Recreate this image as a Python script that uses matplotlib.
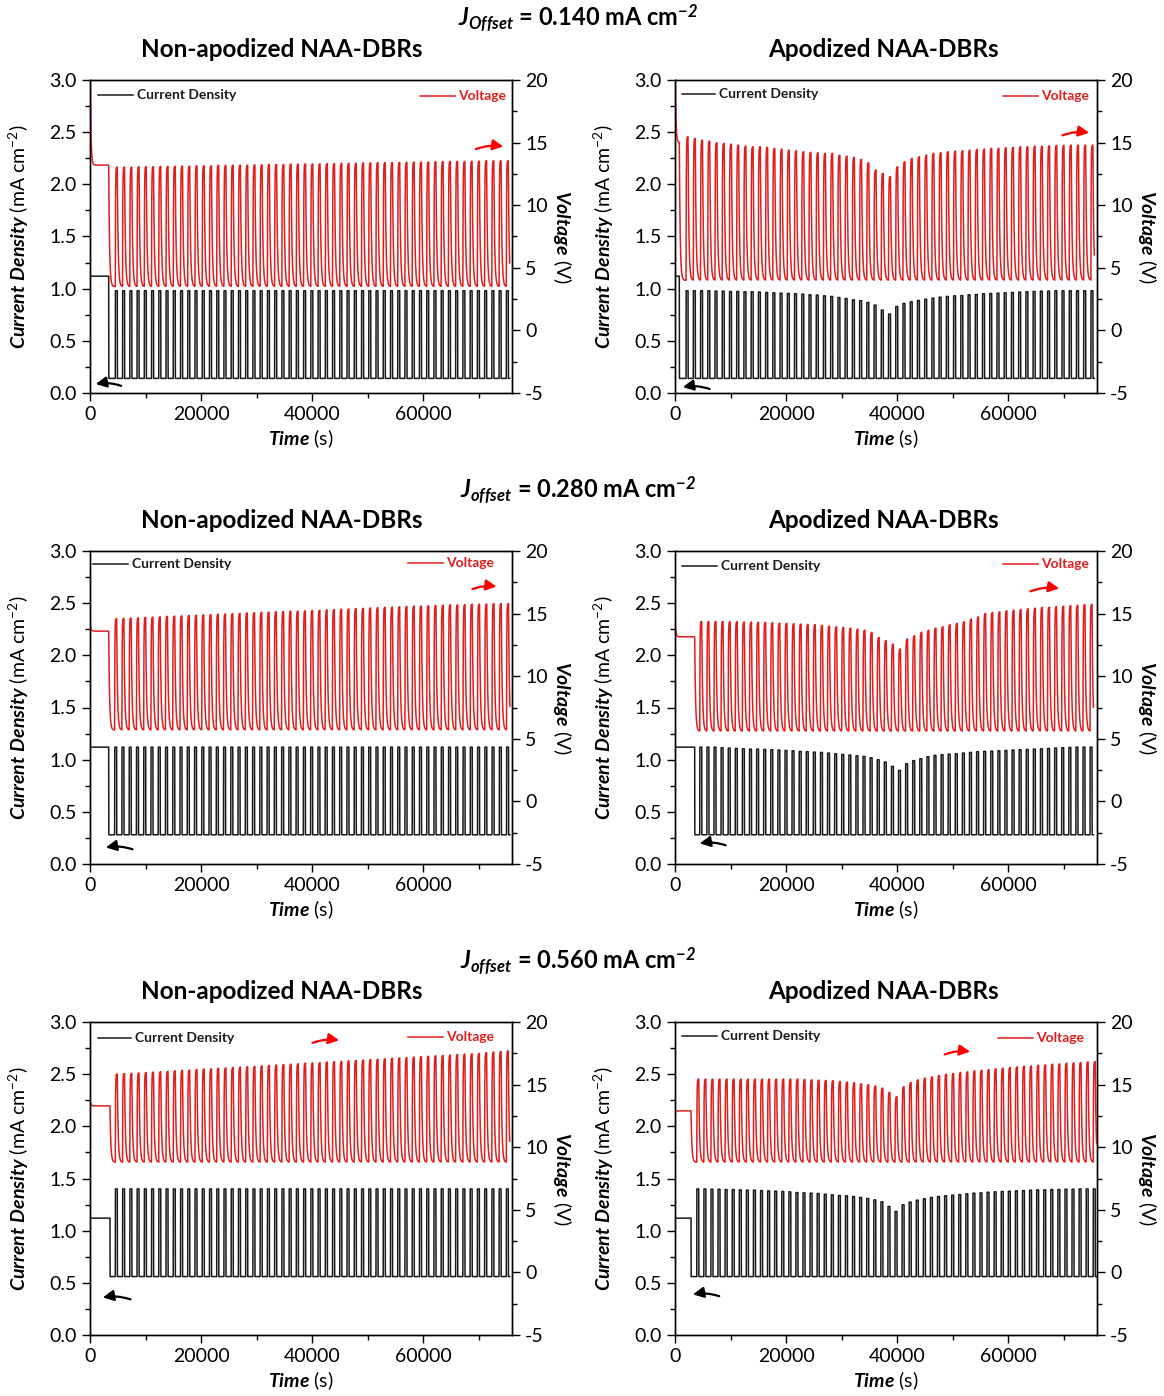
import numpy as np
import matplotlib

matplotlib.use("Agg")
import matplotlib.pyplot as plt
from matplotlib.ticker import MultipleLocator, FormatStrFormatter

plt.rcParams['font.family'] = ['Lato', 'DejaVu Sans']
plt.rcParams['mathtext.fontset'] = 'custom'
plt.rcParams['mathtext.rm'] = 'Lato'
plt.rcParams['mathtext.it'] = 'Lato:italic'
plt.rcParams['mathtext.bf'] = 'Lato:bold:italic'
plt.rcParams['axes.unicode_minus'] = False

# ---- data --------------------------------------------------------------
ROW_LABELS = ["0.140", "0.280", "0.560"]
ROW_SUB = ["Offset", "offset", "offset"]
COL_TITLES = ["Non-apodized NAA-DBRs", "Apodized NAA-DBRs"]

J_OFFSET = [0.140, 0.280, 0.560]      # mA cm-2, low level of every pulse
J_PEAK = [0.98, 1.12, 1.40]           # mA cm-2, non-apodized high level
J_INIT = 1.12                         # mA cm-2, before pulsing starts

# per row: [non-apodized, apodized]
PERIOD_S = [[1304, 1302], [1307, 1278], [1304, 1275]]
T_INIT_END = [[3370, 780], [3370, 3550], [3600, 2890]]
T_FIRST = [[4560, 1990], [4440, 4460], [4560, 3920]]
V_TROUGH = [[3.5, 4.0], [5.7, 5.6], [8.8, 8.8]]
V_START = [[26.0, 24.0], [14.6, 15.1], [14.0, 12.6]]
V_PLATEAU = [[13.2, 15.0], [13.6, 13.15], [13.3, 12.9]]

# voltage peaks, one per pulse (V)
V_NA_1 = [13.05, 13.05, 13.05, 13.08, 13.08, 13.08, 13.10, 13.10, 13.10, 13.12,
          13.12, 13.15, 13.15, 13.15, 13.18, 13.18, 13.20, 13.20, 13.20, 13.22,
          13.22, 13.25, 13.25, 13.25, 13.28, 13.28, 13.30, 13.30, 13.30, 13.32,
          13.32, 13.35, 13.35, 13.35, 13.38, 13.38, 13.40, 13.40, 13.40, 13.42,
          13.42, 13.45, 13.45, 13.45, 13.48, 13.48, 13.50, 13.50, 13.50, 13.52,
          13.52, 13.55, 13.55, 13.55, 13.55]
V_A_1 = [15.47, 15.33, 15.20, 15.12, 14.99, 14.94, 14.88, 14.80, 14.72, 14.67,
         14.67, 14.62, 14.54, 14.48, 14.40, 14.35, 14.27, 14.22, 14.19, 14.14,
         14.14, 14.00, 13.92, 13.82, 13.66, 13.39, 12.81, 12.54, 12.28,
         13.07, 13.47, 13.74, 13.87, 14.00, 14.14, 14.19, 14.27, 14.32, 14.35,
         14.40, 14.45, 14.48, 14.54, 14.54, 14.59, 14.62, 14.67, 14.67, 14.72,
         14.72, 14.75, 14.78, 14.78, 14.80, 14.80, 14.80, 14.80]
V_NA_2 = [14.60, 14.62, 14.65, 14.67, 14.70, 14.72, 14.75, 14.78, 14.80, 14.82,
          14.85, 14.87, 14.90, 14.92, 14.95, 14.97, 15.00, 15.02, 15.05, 15.07,
          15.10, 15.12, 15.15, 15.17, 15.20, 15.20, 15.22, 15.25, 15.27, 15.30,
          15.32, 15.35, 15.37, 15.40, 15.42, 15.45, 15.47, 15.50, 15.52, 15.55,
          15.57, 15.60, 15.60, 15.62, 15.65, 15.67, 15.70, 15.70, 15.72, 15.75,
          15.75, 15.77, 15.80, 15.80, 15.80]
V_A_2 = [14.37, 14.37, 14.37, 14.37, 14.35, 14.35, 14.32, 14.32, 14.30, 14.30,
         14.27, 14.24, 14.22, 14.19, 14.16, 14.14, 14.11, 14.06, 14.00, 13.95,
         13.90, 13.84, 13.76, 13.68, 13.50, 13.10, 12.84, 12.57, 12.17,
         12.97, 13.23, 13.50, 13.68, 13.84, 13.95, 14.11, 14.22, 14.35, 14.56,
         14.74, 15.01, 15.09, 15.14, 15.22, 15.27, 15.33, 15.38, 15.43, 15.49,
         15.51, 15.56, 15.59, 15.64, 15.67, 15.72, 15.74]
V_NA_3 = [15.85, 15.88, 15.90, 15.93, 15.96, 16.00, 16.03, 16.06, 16.10, 16.13,
          16.16, 16.20, 16.23, 16.26, 16.30, 16.33, 16.36, 16.40, 16.43, 16.46,
          16.50, 16.53, 16.56, 16.60, 16.63, 16.66, 16.70, 16.73, 16.76, 16.80,
          16.83, 16.86, 16.90, 16.93, 16.96, 17.00, 17.03, 17.06, 17.10, 17.13,
          17.16, 17.20, 17.23, 17.26, 17.30, 17.33, 17.36, 17.40, 17.43, 17.46,
          17.50, 17.55, 17.60, 17.65, 17.70]
V_A_3 = [15.44, 15.44, 15.44, 15.44, 15.44, 15.44, 15.44, 15.44, 15.44, 15.44,
         15.44, 15.44, 15.44, 15.44, 15.44, 15.41, 15.38, 15.36, 15.33, 15.31,
         15.25, 15.20, 15.15, 15.07, 14.99, 14.88, 14.72, 14.38, 14.03,
         14.83, 15.17, 15.38, 15.52, 15.62, 15.73, 15.83, 15.89, 15.97, 16.02,
         16.10, 16.15, 16.20, 16.26, 16.31, 16.36, 16.41, 16.47, 16.49, 16.55,
         16.57, 16.63, 16.65, 16.71, 16.73, 16.76, 16.81, 16.84]

# apodized current peaks, one per pulse (mA cm-2)
I_A_1 = [0.980, 0.980, 0.980, 0.980, 0.976, 0.976, 0.973, 0.973, 0.970, 0.970,
         0.967, 0.963, 0.960, 0.957, 0.954, 0.951, 0.947, 0.941, 0.938, 0.931,
         0.925, 0.915, 0.906, 0.893, 0.884, 0.867, 0.842, 0.794, 0.756,
         0.829, 0.858, 0.874, 0.887, 0.899, 0.909, 0.918, 0.925, 0.931, 0.934,
         0.941, 0.944, 0.951, 0.954, 0.957, 0.960, 0.963, 0.967, 0.970, 0.973,
         0.976, 0.976, 0.980, 0.980, 0.980, 0.980, 0.980, 0.980]
I_A_2 = [1.120, 1.120, 1.120, 1.114, 1.111, 1.107, 1.104, 1.101, 1.101, 1.098,
         1.095, 1.092, 1.088, 1.085, 1.079, 1.076, 1.072, 1.069, 1.063, 1.056,
         1.050, 1.044, 1.037, 1.031, 1.018, 0.999, 0.977, 0.936, 0.897,
         0.961, 0.990, 1.009, 1.028, 1.041, 1.047, 1.053, 1.056, 1.063, 1.069,
         1.076, 1.079, 1.082, 1.085, 1.088, 1.092, 1.095, 1.098, 1.101, 1.104,
         1.107, 1.111, 1.114, 1.117, 1.120, 1.120, 1.120]
I_A_3 = [1.400, 1.400, 1.397, 1.397, 1.394, 1.394, 1.391, 1.388, 1.388, 1.384,
         1.381, 1.378, 1.375, 1.372, 1.365, 1.362, 1.359, 1.356, 1.349, 1.343,
         1.337, 1.334, 1.327, 1.318, 1.308, 1.295, 1.276, 1.232, 1.184,
         1.248, 1.273, 1.292, 1.305, 1.318, 1.327, 1.334, 1.340, 1.346, 1.353,
         1.359, 1.362, 1.368, 1.372, 1.375, 1.378, 1.381, 1.384, 1.388, 1.391,
         1.391, 1.394, 1.394, 1.397, 1.397, 1.400, 1.400, 1.400]

V_PEAKS = [[V_NA_1, V_A_1], [V_NA_2, V_A_2], [V_NA_3, V_A_3]]
I_PEAKS_A = [I_A_1, I_A_2, I_A_3]

# ---- waveform shaping -----------------------------------------------------
HIGH_S = 360
DT = 5.0
TAU_UP, TAU_DOWN, TAU_INIT = 40.0, 150.0, 120.0

RED = "#e01e1e"
BLACK = "#1a1a1a"


def build(t_init, t_first, period, i_peaks, v_peaks, offset, trough, v_start, v_plateau):
    n = len(v_peaks)
    t = np.arange(0, t_first + (n - 1) * period + HIGH_S + 250, DT)
    cur = np.where(t < t_init, J_INIT, offset).astype(float)
    tgt = np.where(t < t_init, v_plateau, trough).astype(float)
    for k in range(n):
        on = (t >= t_first + k * period) & (t < t_first + k * period + HIGH_S)
        cur[on] = i_peaks[k]
        tgt[on] = v_peaks[k]
    volt = np.empty_like(t)
    v = v_start
    for j in range(len(t)):
        if t[j] < t_init:
            tau = TAU_INIT
        else:
            tau = TAU_UP if tgt[j] > v else TAU_DOWN
        v += (tgt[j] - v) * (1 - np.exp(-DT / tau))
        volt[j] = v
    t = np.concatenate([[0.0], t])
    volt = np.concatenate([[-6.0], volt])
    cur = np.concatenate([[0.0], cur])
    return t, cur, volt


# layout in pixels (fig 1164 x 1396)
W, H = 1164, 1396
AX_LEFT_PX = [90, 675]
AX_BOTTOM_PX = [393, 864, 1335]
AX_W, AX_H = 422, 313

LEGEND_POS = [  # (line x0, x1, y) current, (line x0, x1, y) voltage
    [((0.019, 0.102, 0.952), (0.782, 0.865, 0.949)),
     ((0.017, 0.095, 0.955), (0.777, 0.860, 0.949))],
    [((0.007, 0.090, 0.958), (0.754, 0.836, 0.962)),
     ((0.017, 0.100, 0.952), (0.777, 0.860, 0.958))],
    [((0.019, 0.097, 0.949), (0.754, 0.836, 0.952)),
     ((0.017, 0.100, 0.955), (0.765, 0.848, 0.949))],
]
ARROWS = [  # black (tail, head), red (tail, head) in axes fraction
    [(((0.080, 0.020), (0.007, 0.027)), ((0.908, 0.776), (0.986, 0.786))),
     (((0.088, 0.010), (0.012, 0.017)), ((0.912, 0.820), (0.988, 0.830)))],
    [(((0.107, 0.044), (0.031, 0.051)), ((0.900, 0.875), (0.970, 0.885))),
     (((0.126, 0.057), (0.052, 0.064)), ((0.836, 0.868), (0.917, 0.879)))],
    [(((0.102, 0.111), (0.024, 0.118)), ((0.521, 0.930), (0.597, 0.940))),
     (((0.111, 0.121), (0.036, 0.128)), ((0.633, 0.893), (0.706, 0.904)))],
]
TITLE_X = [0.455, 0.493]
HEADER_Y_PX = [18, 490, 961]

fig = plt.figure(figsize=(W / 100, H / 100), dpi=100)

for r in range(3):
    fig.text(578 / W, 1 - HEADER_Y_PX[r] / H,
             r"$\mathbf{J}_{\mathbf{%s}}$ = %s mA cm$^{\mathbf{-2}}$" % (ROW_SUB[r], ROW_LABELS[r]),
             ha="center", va="center", fontsize=17, fontweight="bold")
    for c in range(2):
        ax = fig.add_axes([AX_LEFT_PX[c] / W, 1 - AX_BOTTOM_PX[r] / H, AX_W / W, AX_H / H])
        ax2 = ax.twinx()
        if c == 0:
            i_peaks = [J_PEAK[r]] * len(V_PEAKS[r][0])
        else:
            i_peaks = I_PEAKS_A[r]
        t, cur, volt = build(T_INIT_END[r][c], T_FIRST[r][c], PERIOD_S[r][c], i_peaks,
                             V_PEAKS[r][c], J_OFFSET[r], V_TROUGH[r][c],
                             V_START[r][c], V_PLATEAU[r][c])
        ax.plot(t, cur, color=BLACK, lw=1.1)
        ax2.plot(t, volt, color=RED, lw=1.1)

        ax.set_xlim(0, 76000)
        ax.set_ylim(0, 3.0)
        ax2.set_ylim(-5, 20)
        ax.xaxis.set_major_locator(MultipleLocator(20000))
        ax.xaxis.set_minor_locator(MultipleLocator(10000))
        ax.yaxis.set_major_locator(MultipleLocator(0.5))
        ax.yaxis.set_minor_locator(MultipleLocator(0.25))
        ax.yaxis.set_major_formatter(FormatStrFormatter("%.1f"))
        ax2.yaxis.set_major_locator(MultipleLocator(5))
        ax2.yaxis.set_minor_locator(MultipleLocator(2.5))
        for a in (ax, ax2):
            a.tick_params(which="major", direction="out", length=6, width=1, labelsize=14)
            a.tick_params(which="minor", direction="out", length=3.5, width=1)
            for s in a.spines.values():
                s.set_linewidth(1.0)

        ax.set_ylabel(r"$\mathbf{Current\ Density}$ (mA cm$^{-2}$)", fontsize=14)
        ax.yaxis.set_label_coords(-0.14, 0.5)
        ax2.set_ylabel(r"$\mathbf{Voltage}$ (V)", fontsize=14, rotation=270, va="center")
        ax2.yaxis.set_label_coords(1.12, 0.5)
        ax.set_xlabel(r"$\mathbf{Time}$ (s)", fontsize=14)
        ax.xaxis.set_label_coords(0.5, -0.11)

        ax.text(TITLE_X[c], 1.099, COL_TITLES[c], transform=ax.transAxes,
                ha="center", va="center", fontsize=17.5, fontweight="bold")

        (cx0, cx1, cy), (vx0, vx1, vy) = LEGEND_POS[r][c]
        ax.plot([cx0, cx1], [cy, cy], transform=ax.transAxes, color=BLACK, lw=1.1)
        ax.text(cx1 + 0.01, cy, "Current Density", transform=ax.transAxes,
                ha="left", va="center", fontsize=10, fontweight="bold", color=BLACK)
        ax.plot([vx0, vx1], [vy, vy], transform=ax.transAxes, color=RED, lw=1.1)
        ax.text(vx1 + 0.008, vy, "Voltage", transform=ax.transAxes,
                ha="left", va="center", fontsize=10, fontweight="bold", color=RED)

        (bt, bh), (rt, rh) = ARROWS[r][c]
        ax.annotate("", xy=bh, xytext=bt, xycoords="axes fraction",
                    arrowprops=dict(arrowstyle="-|>", color="black", lw=1.6,
                                    mutation_scale=16, connectionstyle="arc3,rad=0.15"))
        ax.annotate("", xy=rh, xytext=rt, xycoords="axes fraction",
                    arrowprops=dict(arrowstyle="-|>", color="red", lw=1.6,
                                    mutation_scale=16, connectionstyle="arc3,rad=-0.15"))

fig.savefig("out.png", dpi=100)
